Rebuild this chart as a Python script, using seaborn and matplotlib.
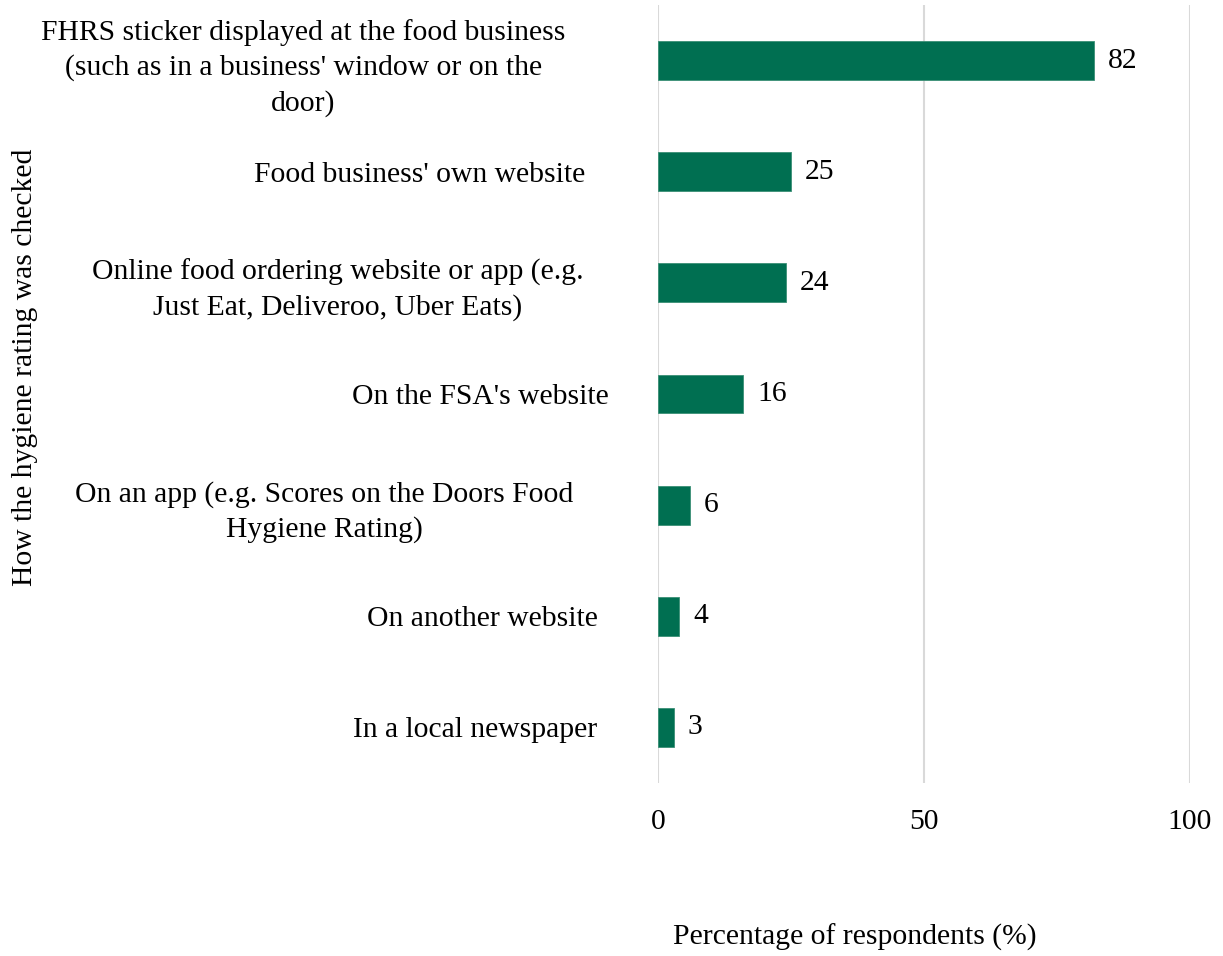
import matplotlib
matplotlib.use("Agg")
import matplotlib.pyplot as plt
import matplotlib.transforms as mtransforms
import seaborn as sns
import pandas as pd

categories = [
    "FHRS sticker displayed at the food business\n(such as in a business' window or on the\ndoor)",
    "Food business' own website",
    "Online food ordering website or app (e.g.\nJust Eat, Deliveroo, Uber Eats)",
    "On the FSA's website",
    "On an app (e.g. Scores on the Doors Food\nHygiene Rating)",
    "On another website",
    "In a local newspaper",
]
percentages = [82, 25, 24, 16, 6, 4, 3]
x_ticks = [0, 50, 100]

df = pd.DataFrame({"method": categories, "pct": percentages})

sns.set_theme(style="white")
plt.rcParams["font.family"] = ["Liberation Serif", "DejaVu Serif"]
plt.rcParams["text.color"] = "black"
plt.rcParams["xtick.color"] = "black"
plt.rcParams["ytick.color"] = "black"

FS = 21.3
W, H = 1223, 956
fig = plt.figure(figsize=(W / 100, H / 100), dpi=100)
ax = fig.add_axes([658 / W, 1 - 783 / H, (1190 - 658) / W, (783 - 5) / H])

sns.barplot(data=df, y="method", x="pct", orient="h", color="#006F51",
            saturation=1, width=0.35, edgecolor="#3a8f75", linewidth=0.6,
            ax=ax, zorder=3)

ax.set_xlim(0, 100)
ax.set_ylim(6.5, -0.5)
ax.set_xticks(x_ticks)
ax.set_xticklabels([str(t) for t in x_ticks])
ax.xaxis.grid(True, color="#d9d9d9", linewidth=1.5, zorder=0)
ax.yaxis.grid(False)
for s in ax.spines.values():
    s.set_visible(False)
ax.tick_params(axis="x", length=0, pad=19, labelsize=FS, labelcolor="black")
ax.tick_params(axis="y", length=0, pad=45, labelsize=FS, labelcolor="black")

# wrapped category labels: centred lines, with small individual nudges
nudges_px = [-30, -10, -12, 13, -22, 2, 2]
for lab, dx in zip(ax.get_yticklabels(), nudges_px):
    lab.set_multialignment("center")
    lab.set_linespacing(1.4)
    lab.set_transform(lab.get_transform()
                      + mtransforms.ScaledTranslation(dx / 100, 0, fig.dpi_scale_trans))
ax.set_xlabel("")
ax.set_ylabel("")

for cont in ax.containers:
    ax.bar_label(cont, labels=[str(v) for v in percentages], padding=10,
                 fontsize=FS, color="black")

fig.text(25 / W, 1 - 367 / H, "How the hygiene rating was checked",
         rotation=90, ha="center", va="center", fontsize=FS, color="black")
fig.text(855 / W, 1 - 937 / H, "Percentage of respondents (%)",
         ha="center", va="center", fontsize=FS, color="black")

fig.savefig("out.png", dpi=100, facecolor="white")
